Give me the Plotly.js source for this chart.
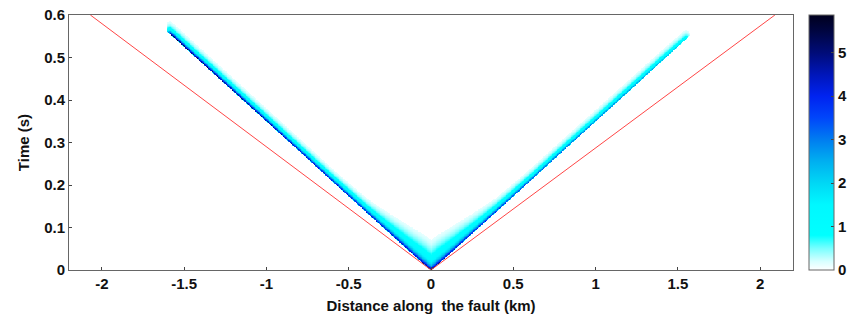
<!DOCTYPE html>
<html><head><meta charset="utf-8">
<script src="https://cdn.plot.ly/plotly-3.0.1.min.js"></script>
<style>html,body{margin:0;padding:0;background:#fff}#chart{width:851px;height:320px}</style>
</head><body><div id="chart"></div>
<script>
// Values
const distNodes      = [0, 0.05, 0.1, 0.2, 0.3, 0.4, 0.6, 0.8, 1.0, 1.2, 1.4, 1.5, 1.6];      // km from hypocentre
const frontTimeLeft  = [0, 0.018, 0.035, 0.070, 0.105, 0.140, 0.210, 0.281, 0.351, 0.421, 0.491, 0.526, 0.561]; // s
const frontTimeRight = [0, 0.018, 0.035, 0.070, 0.105, 0.140, 0.210, 0.281, 0.351, 0.421, 0.492, 0.527, 0.562]; // s
const peakLeft       = [4.0, 3.5, 3.4, 3.5, 3.7, 3.9, 4.3, 4.7, 5.0, 5.2, 5.4, 5.6, 5.7];       // m/s
const peakRight      = [4.0, 3.4, 3.3, 3.3, 3.4, 3.5, 3.5, 3.4, 3.2, 3.0, 2.6, 2.2, 1.3];       // m/s
const tailAmp        = [1.45, 1.4, 1.3, 1.1, 0.8, 0.5, 0.2, 0.05, 0, 0, 0, 0, 0];             // m/s
const tailDur        = [0.045, 0.043, 0.04, 0.034, 0.028, 0.022, 0.016, 0.012, 0.01, 0.01, 0.01, 0.01, 0.01]; // s
const leftEnd  = 1.60;   // km, where the left front stops
const rightEnd = 1.566;  // km, where the right front stops
const redLineX = [-2.07, 0, 2.09];
const redLineY = [0.6, 0, 0.6];
const colorTicks = [0, 1, 2, 3, 4, 5];
const xTicks = [-2, -1.5, -1, -0.5, 0, 0.5, 1, 1.5, 2];
const yTicks = [0, 0.1, 0.2, 0.3, 0.4, 0.5, 0.6];
const zMax = 5.87;

// Build the heatmap table from the node arrays
function interp(nodes, vals, s) {
  if (s <= nodes[0]) return vals[0];
  for (let i = 1; i < nodes.length; i++) {
    if (s <= nodes[i]) {
      const f = (s - nodes[i-1]) / (nodes[i] - nodes[i-1]);
      return vals[i-1] + f * (vals[i] - vals[i-1]);
    }
  }
  return vals[vals.length - 1];
}
const xs = [], ts = [];
for (let i = 0; i <= 880; i++) xs.push(-2.2 + i * 0.005);
for (let j = 0; j <= 400; j++) ts.push(j * 0.0015);
const fastDecay = 0.008, rise = 0.0018, cutoff = 0.12;
const z = ts.map(() => new Array(xs.length).fill(0));
xs.forEach((x, i) => {
  const s = Math.abs(x);
  const left = x < 0;
  const end = left ? leftEnd : rightEnd;
  if (s > end + 0.01) return;
  const tr = interp(distNodes, left ? frontTimeLeft : frontTimeRight, s);
  let A = interp(distNodes, left ? peakLeft : peakRight, s);
  const C = interp(distNodes, tailAmp, s);
  const Cd = interp(distNodes, tailDur, s);
  if (s > end - 0.02) A *= Math.max(0, (end + 0.01 - s) / 0.03);
  ts.forEach((t, j) => {
    const dt = t - tr;
    if (dt < -rise) return;
    const ramp = dt < 0 ? (1 + dt / rise) : 1;
    const d = Math.max(dt, 0);
    const v = ramp * (A * Math.exp(-d / fastDecay) + C * Math.exp(-(d / Cd) * (d / Cd)));
    z[j][i] = v < cutoff ? 0 : v;
  });
});

const cs = [
  [0, 'rgb(255,255,255)'], [0.034, 'rgb(215,255,255)'], [0.085, 'rgb(120,255,255)'],
  [0.136, 'rgb(0,255,255)'], [0.256, 'rgb(0,248,255)'], [0.341, 'rgb(0,215,245)'],
  [0.426, 'rgb(0,175,240)'], [0.511, 'rgb(0,125,240)'], [0.596, 'rgb(0,70,250)'],
  [0.681, 'rgb(0,35,240)'], [0.767, 'rgb(0,22,185)'], [0.852, 'rgb(0,12,120)'],
  [0.937, 'rgb(0,5,65)'], [1, 'rgb(0,0,30)']
];
const font = {family: 'Liberation Sans, Arial, sans-serif', size: 15, color: '#111', weight: 'bold'};
const data = [
  {type: 'heatmap', x: xs, y: ts, z: z, zmin: 0, zmax: zMax, colorscale: cs, zsmooth: false,
   hoverinfo: 'skip',
   colorbar: {x: 1.022, xanchor: 'left', y: 0, yanchor: 'bottom', len: 1, lenmode: 'fraction',
              thickness: 25, thicknessmode: 'pixels', outlinewidth: 1, outlinecolor: '#666',
              tickvals: colorTicks, ticks: 'inside', ticklen: 3, tickcolor: '#444',
              tickfont: font, xpad: 0, ypad: 0}},
  {type: 'scatter', mode: 'lines', x: redLineX, y: redLineY, line: {color: 'rgb(255,70,70)', width: 1},
   hoverinfo: 'skip', showlegend: false, cliponaxis: true}
];
const layout = {
  width: 851, height: 320, margin: {l: 69, r: 58, t: 15, b: 50, autoexpand: false},
  paper_bgcolor: '#fff', plot_bgcolor: '#fff', showlegend: false, font: font,
  xaxis: {range: [-2.2, 2.2], tickvals: xTicks, ticktext: xTicks.map(String), ticks: 'inside', ticklen: 3,
          showline: true, mirror: true, linecolor: '#666', linewidth: 1, showgrid: false, zeroline: false,
          tickfont: font, title: {text: 'Distance along\u00a0 the fault (km)', font: font, standoff: 9}},
  yaxis: {range: [0, 0.6], tickvals: yTicks, ticktext: yTicks.map(String), ticks: 'inside', ticklen: 3,
          showline: true, mirror: true, linecolor: '#666', linewidth: 1, showgrid: false, zeroline: false,
          tickfont: font, title: {text: 'Time (s)', font: font, standoff: 10}}
};
Plotly.newPlot('chart', data, layout, {staticPlot: true, displayModeBar: false});
</script></body></html>
